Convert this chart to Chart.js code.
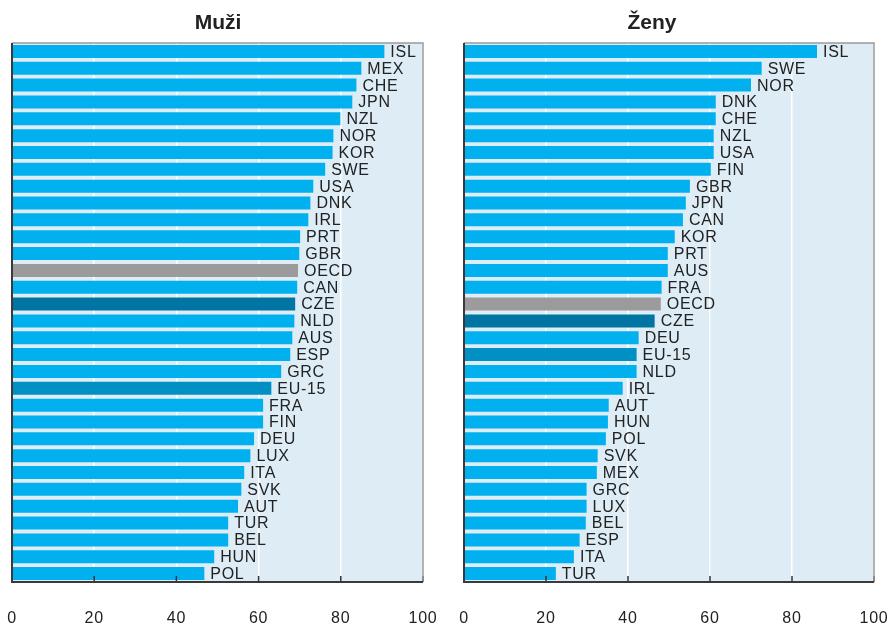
<!DOCTYPE html>
<html>
<head>
<meta charset="utf-8">
<script src="https://cdn.jsdelivr.net/npm/chart.js@4"></script>
<style>
  html, body { margin: 0; padding: 0; background: #fff; }
  body { width: 889px; height: 623px; position: relative; overflow: hidden; font-family: "Liberation Sans", Arial, sans-serif; }
  .wrap { position: absolute; top: 0; height: 623px; }
  .title { position: absolute; top: 10px; font-weight: bold; font-size: 21px; color: #222; transform: translateX(-50%); white-space: nowrap; }
</style>
</head>
<body>
<div class="wrap" style="left:0;width:445px;"><canvas id="c1" width="445" height="623"></canvas></div>
<div class="wrap" style="left:445px;width:444px;"><canvas id="c2" width="444" height="623"></canvas></div>
<div class="title" style="left:218px;">Muži</div>
<div class="title" style="left:652px;">Ženy</div>
<script>
const mCats = ["ISL","MEX","CHE","JPN","NZL","NOR","KOR","SWE","USA","DNK","IRL","PRT","GBR","OECD","CAN","CZE","NLD","AUS","ESP","GRC","EU-15","FRA","FIN","DEU","LUX","ITA","SVK","AUT","TUR","BEL","HUN","POL"];
const mVals = [90.6,85.0,83.8,82.8,79.9,78.2,78.0,76.2,73.3,72.6,72.1,70.1,69.9,69.6,69.4,68.9,68.7,68.2,67.7,65.5,63.1,61.1,61.1,58.9,58.0,56.5,55.8,55.0,52.6,52.6,49.2,46.8];
const fCats = ["ISL","SWE","NOR","DNK","CHE","NZL","USA","FIN","GBR","JPN","CAN","KOR","PRT","AUS","FRA","OECD","CZE","DEU","EU-15","NLD","IRL","AUT","HUN","POL","SVK","MEX","GRC","LUX","BEL","ESP","ITA","TUR"];
const fVals = [86.1,72.6,70.0,61.4,61.4,60.9,60.9,60.2,55.1,54.1,53.4,51.4,49.7,49.7,48.2,48.0,46.5,42.6,42.1,42.1,38.7,35.3,35.1,34.6,32.6,32.4,29.9,29.9,29.7,28.2,26.8,22.4];
const xTicks = [0,20,40,60,80,100];

const specialColors = { "CZE": "#0074a2", "EU-15": "#0090c4", "OECD": "#9b9b9b" };
const baseColor = "#00b0ef";
const FONT = '"Liberation Sans", Arial, sans-serif';

const bgPlugin = {
  id: 'bg',
  beforeDraw(chart) {
    const { ctx, chartArea: a } = chart;
    ctx.save();
    ctx.fillStyle = '#deedf5';
    ctx.fillRect(a.left, a.top, a.right - a.left, a.bottom - a.top);
    ctx.restore();
    ctx.letterSpacing = '0.8px';
  }
};

const labelPlugin = {
  id: 'barLabels',
  afterDatasetsDraw(chart) {
    const { ctx } = chart;
    const meta = chart.getDatasetMeta(0);
    const labels = chart.data.labels;
    ctx.save();
    ctx.letterSpacing = '0.7px';
    ctx.font = '16px ' + FONT;
    ctx.fillStyle = '#222';
    ctx.textAlign = 'left';
    ctx.textBaseline = 'middle';
    meta.data.forEach((el, i) => {
      ctx.fillText(labels[i], el.x + 6, el.y + 1);
    });
    ctx.restore();
  }
};

const framePlugin = {
  id: 'frame',
  afterDraw(chart) {
    const { ctx, chartArea: a } = chart;
    const xs = chart.scales.x;
    ctx.save();
    ctx.strokeStyle = '#333';
    ctx.lineWidth = 1.5;
    xTicks.forEach(v => {
      const px = xs.getPixelForValue(v);
      ctx.beginPath();
      ctx.moveTo(px, a.bottom);
      ctx.lineTo(px, a.bottom - 6);
      ctx.stroke();
    });
    ctx.strokeStyle = '#9a9a9a';
    ctx.lineWidth = 1.5;
    ctx.beginPath();
    ctx.moveTo(a.left, a.top);
    ctx.lineTo(a.right, a.top);
    ctx.lineTo(a.right, a.bottom);
    ctx.stroke();
    ctx.strokeStyle = '#3a3a3a';
    ctx.lineWidth = 2;
    ctx.beginPath();
    ctx.moveTo(a.left, a.top);
    ctx.lineTo(a.left, a.bottom);
    ctx.lineTo(a.right, a.bottom);
    ctx.stroke();
    ctx.restore();
  }
};

function makeChart(id, cats, vals, padL, padR) {
  return new Chart(document.getElementById(id), {
    type: 'bar',
    data: {
      labels: cats,
      datasets: [{
        data: vals,
        backgroundColor: cats.map(c => specialColors[c] || baseColor),
        borderWidth: 0,
        barPercentage: 0.77,
        categoryPercentage: 1.0
      }]
    },
    options: {
      indexAxis: 'y',
      responsive: false,
      animation: false,
      events: [],
      layout: { padding: { left: padL, right: padR, top: 43, bottom: 0 } },
      plugins: { legend: { display: false }, tooltip: { enabled: false }, title: { display: false } },
      scales: {
        y: { type: 'category', display: false },
        x: {
          type: 'linear',
          min: 0, max: 100,
          afterBuildTicks: s => { s.ticks = xTicks.map(v => ({ value: v })); },
          afterFit: s => { s.height = 41; s.paddingLeft = 0; s.paddingRight = 0; },
          border: { display: false },
          grid: { color: '#ffffff', lineWidth: 1.5, drawTicks: false, drawOnChartArea: true },
          ticks: { padding: 27, color: '#222', font: { family: FONT, size: 16 }, maxRotation: 0 }
        }
      }
    },
    plugins: [bgPlugin, labelPlugin, framePlugin]
  });
}

makeChart('c1', mCats, mVals, 12, 22);
makeChart('c2', fCats, fVals, 19, 15);
</script>
</body>
</html>
